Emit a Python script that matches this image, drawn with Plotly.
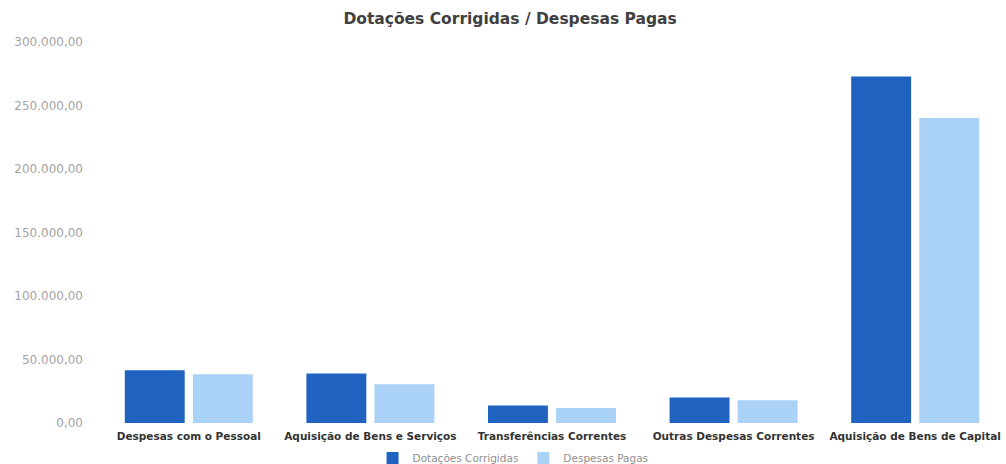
import plotly.graph_objects as go

categories = ["Despesas com o Pessoal", "Aquisição de Bens e Serviços",
              "Transferências Correntes", "Outras Despesas Correntes",
              "Aquisição de Bens de Capital"]
dotacoes_corrigidas = [41600, 39000, 13700, 20000, 272900]
despesas_pagas = [38400, 30500, 11800, 17900, 240100]
series_names = ["Dotações Corrigidas", "Despesas Pagas"]
y_ticks = [0, 50000, 100000, 150000, 200000, 250000, 300000]

fig = go.Figure()
fig.add_trace(go.Bar(x=categories, y=dotacoes_corrigidas, name=series_names[0],
                     marker=dict(color="#1f62c0", line=dict(width=0))))
fig.add_trace(go.Bar(x=categories, y=despesas_pagas, name=series_names[1],
                     marker=dict(color="#aad1f6", line=dict(width=0))))

fig.update_layout(
    width=1006, height=464,
    paper_bgcolor="white", plot_bgcolor="white",
    separators=",.",
    barmode="group", bargap=0.25, bargroupgap=0.12,
    margin=dict(l=98, r=0, t=42, b=41, autoexpand=False),
    font=dict(family="DejaVu Sans", color="#555"),
    title=dict(text="<b>Dotações Corrigidas / Despesas Pagas</b>",
               x=0.507, xanchor="center", xref="container",
               y=0.961, yanchor="middle", yref="container",
               font=dict(size=15.5, color="#404040", family="DejaVu Sans")),
    legend=dict(orientation="h", x=0.51, xanchor="center", xref="container",
                y=-0.092, yanchor="middle", yref="paper",
                bgcolor="rgba(0,0,0,0)",
                font=dict(size=10.5, color="#8f8f8f", family="DejaVu Sans"),
                itemwidth=30, traceorder="normal"),
    showlegend=True,
)
fig.update_xaxes(showgrid=False, showline=False, ticks="", automargin=False,
                 tickfont=dict(size=10.5, color="#333", family="DejaVu Sans"),
                 tickprefix="<b>", ticksuffix="</b>", ticklabelstandoff=5)
fig.update_yaxes(range=[0, 300000], tickvals=y_ticks, tickformat=",.2f",
                 showgrid=False, zeroline=False, showline=False, ticks="",
                 automargin=False,
                 tickfont=dict(size=12, color="#a3a3a3", family="DejaVu Sans"),
                 ticklabelstandoff=14)

fig.write_html("out.html", config={"displayModeBar": False},
               post_script="document.body.style.margin='0';")
